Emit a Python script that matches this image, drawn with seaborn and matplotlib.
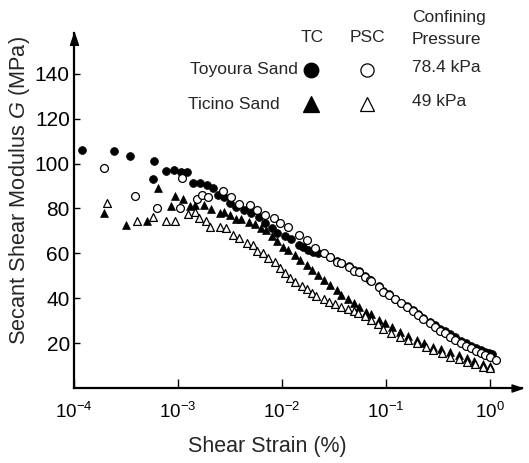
import numpy as np
import pandas as pd
import matplotlib
matplotlib.use("Agg")
import matplotlib.pyplot as plt
import seaborn as sns
from matplotlib.ticker import FixedLocator, FixedFormatter, NullLocator

# ---------------- data (strain in %, G in MPa) ----------------
toyoura_tc_strain = [1.20e-4, 2.45e-4, 3.47e-4, 5.89e-4, 5.75e-4, 7.67e-4, 9.12e-4, 1.07e-3,
                     1.23e-3, 1.38e-3, 1.62e-3, 1.91e-3, 2.19e-3, 2.45e-3, 2.75e-3, 3.16e-3,
                     3.63e-3, 4.27e-3, 5.01e-3, 6.03e-3, 6.92e-3, 7.94e-3, 9.02e-3, 1.07e-2,
                     1.23e-2, 1.45e-2, 1.60e-2, 1.78e-2, 2.00e-2, 2.24e-2,
                     2.88e-2, 3.35e-2, 3.72e-2, 4.37e-2, 4.90e-2, 5.50e-2, 6.31e-2, 7.08e-2,
                     8.51e-2, 9.33e-2, 1.07e-1, 1.23e-1, 1.38e-1, 1.58e-1, 1.82e-1, 2.04e-1,
                     2.29e-1, 2.63e-1, 2.95e-1, 3.31e-1, 3.72e-1, 4.12e-1, 4.57e-1, 5.25e-1,
                     5.89e-1, 6.61e-1, 7.33e-1, 8.13e-1, 8.91e-1, 9.77e-1, 1.05]
toyoura_tc_G = [106, 105.6, 103.2, 101, 93, 96.5, 97, 96.4,
                96.4, 91.5, 91.5, 90.4, 89, 86, 85.2, 82.3,
                80.8, 79.3, 77.8, 76.3, 73.6, 71.1, 69.2, 67.7,
                66.2, 63.7, 62.9, 61.5, 60.7, 60,
                58.4, 56.5, 55.6, 54.2, 52.4, 51.9, 49.8, 48.3,
                45.3, 43.2, 41.7, 39.8, 38.0, 36.6, 34.8, 33.0,
                31.2, 29.5, 28.0, 26.3, 25.3, 23.9, 22.5, 21.0,
                19.9, 18.9, 17.9, 17.0, 16.2, 15.8, 15.0]

toyoura_psc_strain = [1.95e-4, 3.89e-4, 6.24e-4, 1.05e-3, 1.10e-3, 1.51e-3, 1.70e-3, 1.95e-3,
                      2.69e-3, 3.24e-3, 3.89e-3, 4.90e-3, 5.75e-3, 6.92e-3, 8.32e-3, 9.55e-3,
                      1.15e-2, 1.45e-2, 1.74e-2, 2.09e-2, 2.51e-2, 2.88e-2, 3.35e-2, 3.72e-2,
                      4.37e-2, 4.90e-2, 5.50e-2, 6.31e-2, 7.08e-2, 7.24e-2, 8.51e-2, 9.33e-2,
                      1.07e-1, 1.23e-1, 1.38e-1, 1.58e-1, 1.82e-1, 2.04e-1, 2.29e-1, 2.63e-1,
                      2.95e-1, 3.31e-1, 3.72e-1, 4.12e-1, 4.57e-1, 5.25e-1, 5.89e-1, 6.61e-1,
                      7.33e-1, 8.13e-1, 8.91e-1, 1.00, 1.13]
toyoura_psc_G = [98, 85.7, 80, 80.2, 93.7, 84.2, 86, 85.2,
                 87.7, 85.2, 82, 81.5, 79.3, 77, 75.6, 73.3,
                 71.9, 68.2, 65.9, 62.2, 60.3, 58.2, 56.3, 55.5,
                 54, 52.2, 51.8, 49.6, 48.1, 47.5, 45.1, 42.9,
                 41.4, 39.5, 37.7, 36.2, 34.3, 32.5, 30.6, 28.8,
                 27.3, 25.5, 24.4, 22.9, 21.4, 19.9, 18.7, 17.7,
                 16.6, 15.7, 14.7, 13.9, 12.5]

ticino_tc_strain = [1.95e-4, 3.16e-4, 5.01e-4, 6.46e-4, 8.51e-4, 9.33e-4, 1.12e-3, 1.29e-3,
                    1.45e-3, 1.78e-3, 2.09e-3, 2.51e-3, 2.75e-3, 3.16e-3, 3.63e-3, 4.07e-3,
                    4.79e-3, 5.50e-3, 6.31e-3, 7.08e-3, 7.94e-3, 8.91e-3, 1.02e-2, 1.15e-2,
                    1.33e-2, 1.48e-2, 1.74e-2, 1.95e-2, 2.24e-2, 2.51e-2, 2.88e-2, 3.35e-2,
                    3.72e-2, 4.27e-2, 4.90e-2, 5.50e-2, 6.46e-2, 7.24e-2, 8.51e-2, 9.77e-2,
                    1.15e-1, 1.36e-1, 1.62e-1, 1.97e-1, 2.34e-1, 2.85e-1, 3.39e-1, 4.12e-1,
                    5.01e-1, 5.96e-1, 7.08e-1, 8.61e-1, 1.00]
ticino_tc_G = [78, 72.8, 74.4, 89.2, 81, 85.5, 84, 81,
               81.5, 81.5, 79.6, 78, 78.5, 77, 75.3, 75.1,
               74, 73, 71.1, 70.4, 67.5, 65.5, 62.9, 61.5,
               59.2, 57, 54.8, 52.6, 50.3, 48.1, 45.9, 43.7,
               41.4, 39.5, 37.7, 36.2, 34, 33, 30.5, 28.8,
               27, 25.1, 23.2, 21.4, 20, 18.4, 17.2, 16.2,
               14.7, 13.2, 12, 10.9, 9.8]

ticino_psc_strain = [2.09e-4, 4.07e-4, 5.75e-4, 7.59e-4, 9.33e-4, 1.26e-3, 1.45e-3, 1.58e-3,
                     1.86e-3, 2.04e-3, 2.51e-3, 2.88e-3, 3.39e-3, 3.89e-3, 4.57e-3, 5.25e-3,
                     5.75e-3, 6.61e-3, 7.41e-3, 8.51e-3, 9.55e-3, 1.07e-2, 1.20e-2, 1.33e-2,
                     1.55e-2, 1.74e-2, 1.95e-2, 2.14e-2, 2.51e-2, 2.85e-2, 3.24e-2, 3.72e-2,
                     4.27e-2, 4.90e-2, 5.37e-2, 6.31e-2, 7.24e-2, 8.32e-2, 9.33e-2, 1.12e-1,
                     1.36e-1, 1.62e-1, 1.97e-1, 2.40e-1, 2.85e-1, 3.47e-1, 4.12e-1, 5.01e-1,
                     5.96e-1, 7.16e-1, 8.61e-1, 1.00]
ticino_psc_G = [82.3, 74.2, 76.2, 74.5, 74.5, 77.5, 78.3, 75.9,
                74.4, 71.6, 71.6, 71.1, 68.2, 66.7, 64.5, 63.7,
                61.2, 60, 57.8, 56, 53.5, 51.1, 48.9, 47.3,
                45.4, 44, 42.5, 41, 39.5, 38.4, 37.3, 36.2,
                35.3, 34.2, 33.2, 32.2, 30.5, 28.5, 26.5, 24.5,
                22.9, 21.3, 19.9, 18.3, 16.9, 15.4, 13.9, 12.8,
                11.7, 10.6, 9.5, 8.8]

x_ticks = [1e-4, 1e-3, 1e-2, 1e-1, 1e0]
x_tick_labels = ["$10^{-4}$", "$10^{-3}$", "$10^{-2}$", "$10^{-1}$", "$10^{0}$"]
y_ticks = [20, 40, 60, 80, 100, 120, 140]

# ---------------- style ----------------
sns.set_style("white")
plt.rcParams["font.family"] = ["Liberation Sans", "DejaVu Sans"]
plt.rcParams["mathtext.fontset"] = "custom"
plt.rcParams["mathtext.rm"] = "Liberation Sans"
plt.rcParams["mathtext.it"] = "Liberation Sans:italic"
plt.rcParams["mathtext.default"] = "regular"

W, H = 529, 463
fig = plt.figure(figsize=(W / 100, H / 100), dpi=100)
ax_left, ax_right, ax_bottom, ax_top = 74, 522, 388, 33
ax = fig.add_axes([ax_left / W, 1 - ax_bottom / H, (ax_right - ax_left) / W, (ax_bottom - ax_top) / H])

px_per_dec = 104.0
xmax = 10 ** ((ax_right - ax_left) / px_per_dec - 4)
ymax = (ax_bottom - ax_top) / (44.9 / 20)

def frame(s, g):
    return pd.DataFrame({"strain": s, "G": g})

ms = 32
lw_open = 0.9
sns.scatterplot(data=frame(ticino_tc_strain, ticino_tc_G), x="strain", y="G", ax=ax,
                marker="^", color="black", edgecolor="black", s=ms, linewidth=0.5, zorder=3)
sns.scatterplot(data=frame(ticino_psc_strain, ticino_psc_G), x="strain", y="G", ax=ax,
                marker="^", facecolor="white", edgecolor="black", s=ms, linewidth=lw_open, zorder=4)
sns.scatterplot(data=frame(toyoura_tc_strain, toyoura_tc_G), x="strain", y="G", ax=ax,
                marker="o", color="black", edgecolor="black", s=ms, linewidth=0.5, zorder=5)
sns.scatterplot(data=frame(toyoura_psc_strain, toyoura_psc_G), x="strain", y="G", ax=ax,
                marker="o", facecolor="white", edgecolor="black", s=ms, linewidth=lw_open, zorder=6)

ax.set_xscale("log")
ax.set_xlim(1e-4, xmax)
ax.set_ylim(0, ymax)
ax.xaxis.set_major_locator(FixedLocator(x_ticks))
ax.xaxis.set_major_formatter(FixedFormatter(x_tick_labels))
ax.xaxis.set_minor_locator(NullLocator())
ax.yaxis.set_minor_locator(NullLocator())
ax.set_yticks(y_ticks)

for side in ["top", "right"]:
    ax.spines[side].set_visible(False)
for side in ["left", "bottom"]:
    ax.spines[side].set_linewidth(1.6)
    ax.spines[side].set_color("black")

ax.tick_params(axis="x", which="major", bottom=True, direction="in", length=6.5, width=1.0,
               labelsize=13.5, pad=10, colors="black")
ax.tick_params(axis="y", which="major", left=True, direction="in", length=4, width=1.0,
               labelsize=15, pad=3, colors="black")

ax.set_xlabel("Shear Strain (%)", fontsize=15.5)
ax.set_ylabel("Secant Shear Modulus $\\mathit{G}$ (MPa)", fontsize=15.7)
ax.xaxis.label.set_va("baseline")
ax.xaxis.set_label_coords((267 - ax_left) / (ax_right - ax_left), -(452 - ax_bottom) / (ax_bottom - ax_top))
ax.yaxis.set_label_coords(-(74 - 32) / (ax_right - ax_left), (ax_bottom - 191) / (ax_bottom - ax_top))

# axis arrowheads
up = [(0, 0), (-0.34, -1), (0.34, -1), (0, 0)]
right = [(0, 0), (-1, 0.34), (-1, -0.34), (0, 0)]
ax.plot([0], [1], marker=up, ms=17, color="black", transform=ax.transAxes, clip_on=False, zorder=10)
ax.plot([1], [0], marker=right, ms=15, color="black", transform=ax.transAxes, clip_on=False, zorder=10)

# ---------------- legend block ----------------
def fx(x):
    return x / W

def fy(y):
    return 1 - y / H

fs_leg = 12.5
fig.text(fx(312), fy(41.5), "TC", ha="center", va="baseline", fontsize=fs_leg)
fig.text(fx(367), fy(41.5), "PSC", ha="center", va="baseline", fontsize=fs_leg)
fig.text(fx(412), fy(22), "Confining", ha="left", va="baseline", fontsize=fs_leg)
fig.text(fx(412), fy(44.5), "Pressure", ha="left", va="baseline", fontsize=fs_leg)
fig.text(fx(298), fy(74), "Toyoura Sand", ha="right", va="baseline", fontsize=fs_leg)
fig.text(fx(412), fy(72.5), "78.4 kPa", ha="left", va="baseline", fontsize=fs_leg)
fig.text(fx(188), fy(109), "Ticino Sand", ha="left", va="baseline", fontsize=fs_leg)
fig.text(fx(412), fy(106), "49 kPa", ha="left", va="baseline", fontsize=fs_leg)

leg_markers = [
    (311, 69.5, "o", "black", 10.5),
    (367, 69.5, "o", "white", 9.5),
    (311, 103.5, "^", "black", 11),
    (367, 103.5, "^", "white", 10),
]
for x, y, m, fc, size in leg_markers:
    fig.add_artist(matplotlib.lines.Line2D([fx(x)], [fy(y)], marker=m, markersize=size,
                                           markerfacecolor=fc, markeredgecolor="black",
                                           markeredgewidth=0.9, linestyle="none",
                                           transform=fig.transFigure))

fig.savefig("out.png", dpi=100)
